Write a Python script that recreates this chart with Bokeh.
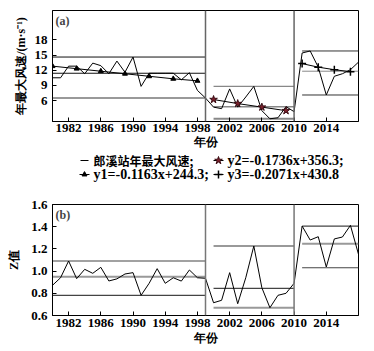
from bokeh.plotting import figure
from bokeh.layouts import column
from bokeh.models import Span, Label, FixedTicker, Range1d, PrintfTickFormatter
from bokeh.core.properties import value
from bokeh.embed import file_html
from bokeh.resources import INLINE

# ---------------- data ----------------
years = list(range(1980, 2019))
wind = [10.5, 10.5, 12.8, 12.8, 11.3, 13.4, 12.9, 11.3, 13.8, 11.6,
        14.6, 8.8, 11.4, 11.4, 11.4, 11.4, 10.1, 11.5, 8.0, 6.5,
        4.7, 4.4, 8.3, 4.7, 6.7, 8.8, 4.0, 2.4, 2.6, 4.8, 3.8,
        15.4, 15.8, 12.6, 7.1, 10.8, 11.3, 12.1, 13.6]
zval = [0.872, 0.94, 1.091, 0.932, 1.016, 0.98, 1.034, 0.911, 0.93, 0.974,
        0.986, 0.782, 0.89, 1.022, 0.89, 0.94, 0.91, 1.01, 0.94, 0.935,
        0.715, 0.737, 0.986, 0.706, 0.94, 1.226, 0.85, 0.67, 0.782, 0.8, 0.89,
        1.406, 1.28, 1.31, 1.037, 1.29, 1.307, 1.412, 1.151]

period_start = [1980, 2000, 2011]
period_end = [1999, 2010, 2018]
breaks = [1999, 2010]

wind_max = [14.6, 8.8, 15.8]
wind_mean = [11.4, 4.8, 11.8]
wind_min = [6.5, 2.4, 7.1]

z_max = [1.091, 1.226, 1.406]
z_mean = [0.95, 0.845, 1.247]
z_min = [0.782, 0.67, 1.03]

trend1_x = [1980, 1983, 1986, 1989, 1992, 1995, 1998]
trend1_y = [12.8, 12.3, 11.8, 11.3, 10.8, 10.3, 9.9]
trend2_x = [2000, 2003, 2006, 2009]
trend2_y = [6.2, 5.4, 4.7, 4.0]
trend3_x = [2011, 2013, 2015, 2017]
trend3_y = [13.3, 12.6, 12.1, 11.7]

x_ticks = [1982, 1986, 1990, 1994, 1998, 2002, 2006, 2010, 2014]
ya_ticks = [6, 9, 12, 15, 18]
yb_ticks = [0.6, 0.8, 1.0, 1.2, 1.4, 1.6]

label_a = "(a)"
label_b = "(b)"
ylabel_a = "年最大风速/(m·s⁻¹)"
ylabel_b = "Z值"
xlabel = "年份"
leg_data = "郎溪站年最大风速;"
leg_y1 = "y1=-0.1163x+244.3;"
leg_y2 = "y2=-0.1736x+356.3;"
leg_y3 = "y3=-0.2071x+430.8"

SERIF = "Liberation Serif"
CJK = "Noto Sans CJK SC"


def style(p, yticks):
    p.grid.visible = False
    p.outline_line_color = "black"
    p.outline_line_width = 1
    for ax in (p.xaxis[0], p.yaxis[0]):
        ax.major_tick_in = 4
        ax.major_tick_out = 0
        ax.minor_tick_in = 0
        ax.minor_tick_out = 0
        ax.axis_line_color = "black"
        ax.major_tick_line_color = "black"
        ax.major_label_text_font = SERIF
        ax.major_label_text_font_style = "bold"
        ax.major_label_text_font_size = "13px"
        ax.major_label_text_color = "black"
        ax.axis_label_text_font = SERIF
        ax.axis_label_text_font_style = "bold"
        ax.axis_label_text_font_size = "12px"
        ax.axis_label_text_color = "black"
    p.xaxis[0].ticker = FixedTicker(ticks=x_ticks)
    p.yaxis[0].ticker = FixedTicker(ticks=yticks)
    p.xaxis[0].major_label_standoff = 3
    p.xaxis[0].axis_label_standoff = 1
    p.yaxis[0].major_label_standoff = 5


TRI = dict(marker="triangle", size=5, color="black")
STAR = dict(marker="star", size=8, fill_color="#7a1f2b", line_color="#3a0d14")
CROSS = dict(marker="cross", size=8, line_color="black", line_width=1.5)

# ---------------- panel (a) ----------------
pa = figure(width=374, height=153, x_range=Range1d(1980, 2018), y_range=Range1d(1.86, 23.8),
            output_backend="svg", toolbar_location=None,
            min_border_left=52, min_border_right=16, min_border_top=10, min_border_bottom=32)
style(pa, ya_ticks)
pa.xaxis[0].axis_label = xlabel
pa.xaxis[0].major_label_standoff = 2
pa.xaxis[0].axis_label_standoff = 0
pa.yaxis[0].axis_label = ylabel_a
pa.yaxis[0].axis_label_standoff = 4

for b in breaks:
    pa.add_layout(Span(location=b, dimension="height", line_color="#666666", line_width=1.5))

cols_a = [["#111111", "#888888", "#333333"],
          ["#111111", "#888888", "#888888"],
          ["#777777", "#888888", "#333333"]]
widths_a = [[1, 1.2, 1], [1.2, 1.5, 1], [1.5, 2, 1]]
for lev, cl, wl in zip([wind_max, wind_mean, wind_min], cols_a, widths_a):
    pa.segment(x0=period_start, x1=period_end, y0=lev, y1=lev, line_color=cl, line_width=wl)

pa.line(years, wind, line_color="black", line_width=1)

pa.line(trend1_x, trend1_y, line_color="black", line_width=1)
pa.scatter(trend1_x, trend1_y, **TRI)
pa.line(trend2_x, trend2_y, line_color="black", line_width=1)
pa.scatter(trend2_x, trend2_y, **STAR)
pa.line(trend3_x, trend3_y, line_color="black", line_width=1)
pa.scatter(trend3_x, trend3_y, **CROSS)

pa.add_layout(Label(x=3, y=108, x_units="screen", y_units="screen", text=label_a,
                    text_font=SERIF, text_font_style="bold", text_font_size="12px",
                    text_baseline="top"))

# ---------------- legend strip (data units = canvas pixels) ----------------
LH = 43
pl = figure(width=374, height=LH, x_range=Range1d(52, 358), y_range=Range1d(LH, 0),
            output_backend="svg", toolbar_location=None, x_axis_type=None, y_axis_type=None,
            min_border_left=52, min_border_right=16, min_border_top=0, min_border_bottom=0)
pl.grid.visible = False
pl.outline_line_color = None

TXT = dict(text_font=value(SERIF), text_font_style="bold", text_font_size="14px",
           text_color="black", text_baseline="middle", text_align="left")
CTXT = dict(TXT, text_font=value(CJK), text_font_size="12px")

R1, R2 = 7, 21
GX1, GX2 = 84, 218
# row 1: data line, y2
pl.segment(x0=[GX1 - 4], x1=[GX1 + 4], y0=[R1], y1=[R1], line_color="black", line_width=1.2)
pl.text(x=[GX1 + 9], y=[R1], text=[leg_data], **CTXT)
pl.segment(x0=[GX2 - 5], x1=[GX2 + 5], y0=[R1], y1=[R1], line_color="black", line_width=1)
pl.scatter(x=[GX2], y=[R1], **STAR)
pl.text(x=[GX2 + 9], y=[R1], text=[leg_y2], **TXT)
# row 2: y1, y3
pl.segment(x0=[GX1 - 5], x1=[GX1 + 5], y0=[R2], y1=[R2], line_color="black", line_width=1)
pl.scatter(x=[GX1], y=[R2], **TRI)
pl.text(x=[GX1 + 9], y=[R2], text=[leg_y1], **TXT)
pl.segment(x0=[GX2 - 5], x1=[GX2 + 5], y0=[R2], y1=[R2], line_color="black", line_width=1)
pl.scatter(x=[GX2], y=[R2], **CROSS)
pl.text(x=[GX2 + 9], y=[R2], text=[leg_y3], **TXT)

# ---------------- panel (b) ----------------
pb = figure(width=374, height=155, x_range=Range1d(1980, 2018), y_range=Range1d(0.6, 1.6),
            output_backend="svg", toolbar_location=None,
            min_border_left=52, min_border_right=16, min_border_top=8, min_border_bottom=36)
style(pb, yb_ticks)
pb.yaxis[0].formatter = PrintfTickFormatter(format="%.1f")
pb.xaxis[0].axis_label = xlabel
pb.yaxis[0].axis_label = ylabel_b
pb.yaxis[0].axis_label_standoff = 7

for b in breaks:
    pb.add_layout(Span(location=b, dimension="height", line_color="#777777", line_width=1.5))

cols_b = [["#444444", "#999999", "#444444"],
          ["#999999", "#444444", "#999999"],
          ["#444444", "#999999", "#444444"]]
widths_b = [[1.2, 2, 1.2], [2, 1.2, 2], [1.2, 2, 1.2]]
for lev, cl, wl in zip([z_max, z_mean, z_min], cols_b, widths_b):
    pb.segment(x0=period_start, x1=period_end, y0=lev, y1=lev, line_color=cl, line_width=wl)

pb.line(years, zval, line_color="black", line_width=1)

pb.add_layout(Label(x=3, y=108, x_units="screen", y_units="screen", text=label_b,
                    text_font=SERIF, text_font_style="bold", text_font_size="12px",
                    text_baseline="top"))

layout = column(pa, pl, pb, spacing=0)
open("out.html", "w").write(file_html(layout, INLINE))
